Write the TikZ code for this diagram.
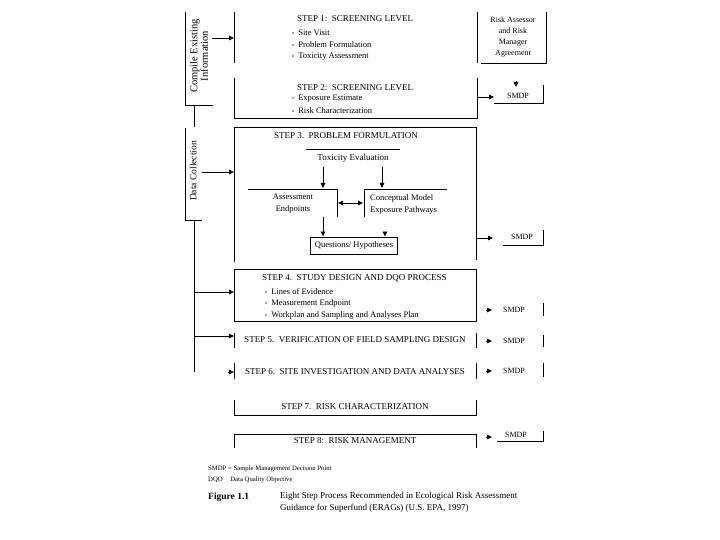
\documentclass[tikz,border=0pt]{standalone}
\usepackage{fontspec}
\setmainfont{Liberation Serif}
\usetikzlibrary{arrows.meta}
\newcommand{\bul}{{\fontsize{6}{6}\selectfont\textbullet}\hspace{4pt}}
\begin{document}
\begin{tikzpicture}[x=1pt,y=-1pt,
  line/.style={line width=0.9pt},
  arr/.style={line width=0.9pt,-{Triangle[length=5pt,width=4.5pt]}},
  head/.style={font=\fontsize{9}{10}\selectfont, inner sep=0pt},
  txt/.style={font=\fontsize{8.5}{10}\selectfont, inner sep=0pt, anchor=west},
  smdp/.style={font=\fontsize{8}{9}\selectfont, inner sep=0pt},
  leg/.style={font=\fontsize{6.7}{8}\selectfont, inner sep=0pt, anchor=west},
]
\fill[white] (0,0) rectangle (720,540);
\useasboundingbox (0,0) rectangle (720,540);

% ---- left brackets ----
\draw[line] (185,12) -- (185,105) -- (213,105);
\node[rotate=90, align=center, font=\fontsize{10.5}{9}\selectfont, inner sep=0pt] (compile) at (199,56) {Compile Existing\\Information};
\draw[line] (185,128) -- (185,220) -- (202,220);
\node[rotate=90, font=\fontsize{9.5}{9}\selectfont, inner sep=0pt] (datacol) at (193,171) {Data Collection};
\coordinate (t1a) at (194,105); \coordinate (t1b) at (194,127);
\coordinate (t2a) at (194,220); \coordinate (t2b) at (194,372);
\draw[line] (t1a) -- (t1b);
\draw[line] (t2a) -- (t2b);

% ---- STEP 1 ----
\draw[line] (234,12) -- (234,63);
\draw[line] (477,12) -- (477,63);
\node[head, anchor=west] (s1) at (297,19) {STEP 1:\ \ SCREENING LEVEL};
\node[txt] (s1a) at (292,33) {\bul Site Visit};
\node[txt] (s1b) at (292,45) {\bul Problem Formulation};
\node[txt] (s1c) at (292,57) {\bul Toxicity Assessment};
\coordinate (c1out) at (212,38); \coordinate (s1in) at (234,38);
\draw[arr] (c1out) -- (s1in);

% Risk assessor
\draw[line] (481,63) -- (546,63) -- (546,12);
\node[align=center, font=\fontsize{8}{11}\selectfont, inner sep=0pt] (ra) at (513,37) {Risk Assessor\\and Risk\\Manager\\Agreement};

% ---- STEP 2 ----
\draw[line] (234,78) -- (234,118) -- (477,118) -- (477,78);
\node[head, anchor=west] (s2) at (297,88) {STEP 2:\ \ SCREENING LEVEL};
\node[txt] (s2a) at (292,99) {\bul Exposure Estimate};
\node[txt] (s2b) at (292,111) {\bul Risk Characterization};
\node[smdp] (m2) at (518,96) {SMDP};
\draw[line] (494,103) -- (543,103) -- (543,85);
\coordinate (s2out) at (477,97); \coordinate (m2in) at (494,97);
\draw[arr] (s2out) -- (m2in);
\coordinate (radown) at (516,81); \coordinate (m2top) at (516,87);
\draw[arr] (radown) -- (m2top);

% ---- STEP 3 ----
\draw[line] (234,262) -- (234,127) -- (476,127) -- (476,260);
\node[head] (s3) at (346,136) {STEP 3.\ \ PROBLEM FORMULATION};
\draw[line] (306,149) -- (400,149);
\node[head] (tox) at (353,158) {Toxicity Evaluation};
\coordinate (tx1) at (323,167); \coordinate (tx1b) at (323,188);
\coordinate (tx2) at (382,167); \coordinate (tx2b) at (382,188);
\draw[arr] (tx1) -- (tx1b);
\draw[arr] (tx2) -- (tx2b);
\draw[line] (248,189) -- (337,189) -- (337,217);
\draw[line] (447,189) -- (364,189) -- (364,217);
\node[font=\fontsize{8.5}{12}\selectfont, align=center, inner sep=0pt] (ae) at (293,204) {Assessment\\Endpoints};
\node[font=\fontsize{8.5}{12}\selectfont, align=left, inner sep=0pt, anchor=west] (cm) at (370,204) {Conceptual Model\\Exposure Pathways};
\coordinate (dl) at (338,203); \coordinate (dr) at (363,203);
\draw[line,{Triangle[length=5pt,width=4.5pt]}-{Triangle[length=5pt,width=4.5pt]}] (dl) -- (dr);
\node[draw, line width=0.9pt, minimum width=87pt, minimum height=17pt, inner sep=0pt, font=\fontsize{8.5}{10}\selectfont] (qh) at (354,245.5) {Questions/ Hypotheses};
\coordinate (ae1) at (323,217);
\draw[arr] (ae1) -- (ae1 |- qh.north);
\coordinate (cm1) at (385,232);
\draw[arr] (cm1) -- (cm1 |- qh.north);
\coordinate (dc1) at (202,172); \coordinate (s3in) at (234,172);
\draw[arr] (dc1) -- (s3in);
\node[smdp] (m3) at (522,237) {SMDP};
\draw[line] (503,245) -- (543,245) -- (543,230);
\coordinate (s3out) at (476,238); \coordinate (m3in) at (493,238);
\draw[arr] (s3out) -- (m3in);

% ---- STEP 4 ----
\draw[line] (234,269) rectangle (476,321);
\node[head, anchor=west] (s4) at (262,278) {STEP 4.\ \ STUDY DESIGN AND DQO PROCESS};
\node[txt] (s4a) at (265,292) {\bul Lines of Evidence};
\node[txt] (s4b) at (265,303) {\bul Measurement Endpoint};
\node[txt] (s4c) at (265,315) {\bul Workplan and Sampling and Analyses Plan};
\coordinate (t4) at (194,292); \coordinate (s4in) at (234,292);
\draw[arr] (t4) -- (s4in);
\coordinate (p4a) at (486,310); \coordinate (p4b) at (492,310);
\draw[arr] (p4a) -- (p4b);
\node[smdp] (m4) at (514,310) {SMDP};
\draw[line] (543,303) -- (543,316);

% ---- STEP 5 ----
\draw[line] (234,333) -- (234,348);
\draw[line] (476,333) -- (476,348);
\node[head] (s5) at (355,340) {STEP 5.\ \ VERIFICATION OF FIELD SAMPLING DESIGN};
\coordinate (t5) at (194,336); \coordinate (s5in) at (234,336);
\draw[arr] (t5) -- (s5in);
\coordinate (p5a) at (486,341); \coordinate (p5b) at (492,341);
\draw[arr] (p5a) -- (p5b);
\node[smdp] (m5) at (514,341) {SMDP};
\draw[line] (543,335) -- (543,347);

% ---- STEP 6 ----
\draw[line] (234,363) -- (234,379);
\draw[line] (476,363) -- (476,379);
\node[head] (s6) at (355,372) {STEP 6.\ \ SITE INVESTIGATION AND DATA ANALYSES};
\coordinate (t6) at (228,372); \coordinate (s6in) at (234,372);
\draw[arr] (t6) -- (s6in);
\coordinate (p6a) at (486,371); \coordinate (p6b) at (492,371);
\draw[arr] (p6a) -- (p6b);
\node[smdp] (m6) at (514,371) {SMDP};
\draw[line] (543,363) -- (543,377);

% ---- STEP 7 ----
\draw[line] (234,400) -- (234,415) -- (476,415) -- (476,400);
\node[head] (s7) at (355,407) {STEP 7.\ \ RISK CHARACTERIZATION};

% ---- STEP 8 ----
\draw[line] (234,448) -- (234,434) -- (476,434) -- (476,448);
\node[head] (s8) at (355,441) {STEP 8:\ \ RISK MANAGEMENT};
\coordinate (p8a) at (486,437); \coordinate (p8b) at (492,437);
\draw[arr] (p8a) -- (p8b);
\node[smdp] (m8) at (516,435) {SMDP};
\draw[line] (497,441) -- (543,441) -- (543,431);

% ---- legend ----
\node[leg] (l1) at (208,469) {SMDP = Sample Management Decision Point};
\node[leg] (l2) at (208,480) {DQO\hspace{6pt} Data Quality Objective};
\node[font=\fontsize{9.5}{11}\selectfont\bfseries, inner sep=0pt, anchor=west] (fig) at (208,497) {Figure 1.1};
\node[font=\fontsize{9}{12}\selectfont, inner sep=0pt, anchor=north west, align=left] (cap) at (280,492) {Eight Step Process Recommended in Ecological Risk Assessment\\Guidance for Superfund (ERAGs) (U.S. EPA, 1997)};
\end{tikzpicture}
\end{document}
